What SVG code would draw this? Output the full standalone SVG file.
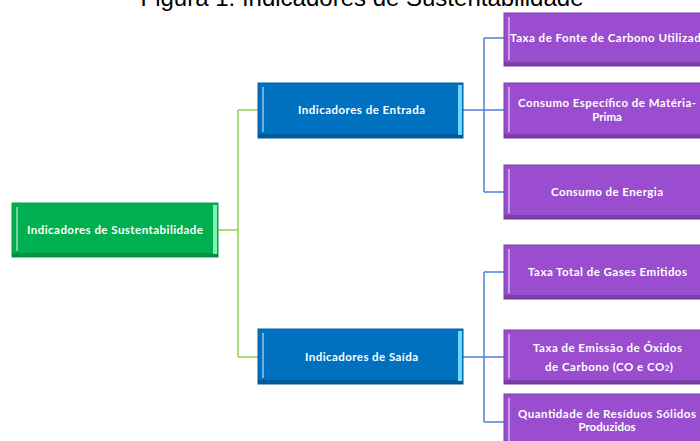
<svg xmlns="http://www.w3.org/2000/svg" width="700" height="441" viewBox="0 0 700 441">
<defs>
<style>
.title{font-family:"Liberation Sans",Arial,sans-serif;font-size:24px;fill:#000;}
.lbl{font-family:Lato,"Open Sans",sans-serif;font-weight:bold;font-size:11.5px;fill:#fff;text-anchor:middle;}
.lbls{font-family:Lato,"Open Sans",sans-serif;font-weight:bold;font-size:11.5px;fill:#fff;}
.g{fill:#00B050;stroke:#0f9a4a;stroke-width:1;}
.b{fill:#0070C0;stroke:#0a5e9e;stroke-width:1;}
.p{fill:#9A4DCF;stroke:#7d3cae;stroke-width:1;}
.cg{stroke:#92D050;stroke-width:1.5;fill:none;}
.cb{stroke:#4F81D9;stroke-width:1.5;fill:none;}
.hl{fill:#fff;opacity:0.45;}
.sh{fill:#000;opacity:0.18;}
</style>
</defs>
<rect width="700" height="441" fill="#fff"/>
<text class="title" x="362" y="6" text-anchor="middle">Figura 1: Indicadores de Sustentabilidade</text>

<g id="connectors">
<path class="cg" d="M218 230 H238 M238 110 V357 M238 110 H258 M238 357 H258"/>
<path class="cb" d="M463 110 H504 M484 38 V192 M484 38 H504 M484 192 H504"/>
<path class="cb" d="M463 357 H504 M484 272 V422 M484 272 H504 M484 422 H504"/>
</g>

<g id="n-sustentabilidade">
<rect class="g" x="12" y="203" width="206" height="54"/>
<rect class="sh" x="12" y="253" width="206" height="4"/>
<rect class="hl" x="16" y="207" width="2" height="44"/>
<rect fill="#7ff0b0" x="213" y="205" width="4" height="49"/>
<text class="lbl" x="115" y="234" textLength="176">Indicadores de Sustentabilidade</text>
</g>

<g id="n-entrada">
<rect class="b" x="258" y="83" width="205" height="55"/>
<rect class="sh" x="258" y="134" width="205" height="4"/>
<rect class="hl" x="262" y="87" width="2" height="45"/>
<rect fill="#6fd8ff" x="458" y="85" width="4" height="50"/>
<text class="lbl" x="361.5" y="114" textLength="127">Indicadores de Entrada</text>
</g>

<g id="n-saida">
<rect class="b" x="258" y="329" width="205" height="55"/>
<rect class="sh" x="258" y="380" width="205" height="4"/>
<rect class="hl" x="262" y="333" width="2" height="45"/>
<rect fill="#6fd8ff" x="458" y="331" width="4" height="50"/>
<text class="lbl" x="361.5" y="360.5" textLength="113">Indicadores de Saída</text>
</g>

<g id="n-fonte-carbono">
<rect class="p" x="504" y="13" width="210" height="53"/>
<rect class="sh" x="504" y="62" width="210" height="4"/>
<rect class="hl" x="508" y="17" width="2" height="43"/>
<text class="lbls" x="510" y="42" textLength="197">Taxa de Fonte de Carbono Utilizada</text>
</g>

<g id="n-materia-prima">
<rect class="p" x="504" y="83" width="210" height="55"/>
<rect class="sh" x="504" y="134" width="210" height="4"/>
<rect class="hl" x="508" y="87" width="2" height="45"/>
<text class="lbl" x="607" y="107" textLength="178">Consumo Específico de Matéria-</text>
<text class="lbl" x="607" y="120.5">Prima</text>
</g>

<g id="n-energia">
<rect class="p" x="504" y="165" width="210" height="54"/>
<rect class="sh" x="504" y="215" width="210" height="4"/>
<rect class="hl" x="508" y="169" width="2" height="44"/>
<text class="lbl" x="607" y="196" textLength="112">Consumo de Energia</text>
</g>

<g id="n-gases">
<rect class="p" x="504" y="245" width="210" height="54"/>
<rect class="sh" x="504" y="295" width="210" height="4"/>
<rect class="hl" x="508" y="249" width="2" height="44"/>
<text class="lbl" x="607.5" y="276" textLength="159">Taxa Total de Gases Emitidos</text>
</g>

<g id="n-oxidos">
<rect class="p" x="504" y="330" width="210" height="54"/>
<rect class="sh" x="504" y="380" width="210" height="4"/>
<rect class="hl" x="508" y="334" width="2" height="44"/>
<text class="lbl" x="607.5" y="351.5" textLength="149">Taxa de Emissão de Óxidos</text>
<text class="lbls" x="545" y="370.5" textLength="128">de Carbono (CO e CO<tspan font-size="8">2</tspan>)</text>
</g>

<g id="n-residuos">
<rect class="p" x="504" y="394" width="210" height="54"/>
<rect class="hl" x="508" y="398" width="2" height="44"/>
<text class="lbl" x="607" y="417.5" textLength="178">Quantidade de Resíduos Sólidos</text>
<text class="lbl" x="607" y="431">Produzidos</text>
</g>
</svg>
